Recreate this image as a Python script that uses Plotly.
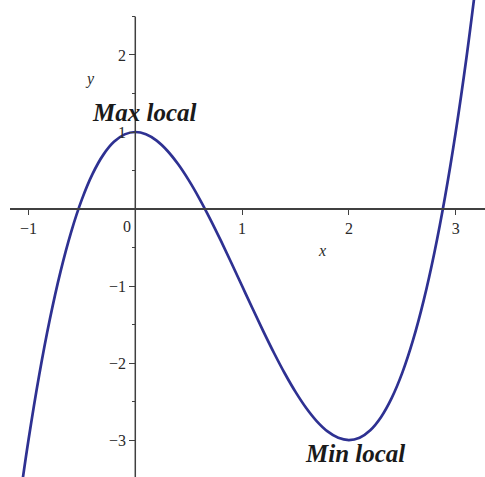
import plotly.graph_objects as go

# Sampled points of the cubic curve (x, y)
x_vals = [-1.08, -1.0, -0.9, -0.8, -0.7, -0.6, -0.5, -0.4, -0.3, -0.2, -0.1, 0.0,
          0.1, 0.2, 0.3, 0.4, 0.5, 0.6, 0.7, 0.8, 0.9, 1.0, 1.1, 1.2, 1.3, 1.4,
          1.5, 1.6, 1.7, 1.8, 1.9, 2.0, 2.1, 2.2, 2.3, 2.4, 2.5, 2.6, 2.7, 2.8,
          2.9, 3.0, 3.1, 3.2]
y_vals = [-3.759, -3.0, -2.159, -1.432, -0.813, -0.296, 0.125, 0.456, 0.703, 0.872,
          0.969, 1.0, 0.971, 0.888, 0.757, 0.584, 0.375, 0.136, -0.127, -0.408,
          -0.701, -1.0, -1.299, -1.592, -1.873, -2.136, -2.375, -2.584, -2.757,
          -2.888, -2.971, -3.0, -2.969, -2.872, -2.703, -2.456, -2.125, -1.704,
          -1.187, -0.568, 0.159, 1.0, 1.961, 3.048]

x_ticks = [-1, 1, 2, 3]
y_ticks = [-3, -2, -1, 1, 2]
y_minor = [-2.5, -1.5, -0.5, 0.5, 1.5, 2.5]

# Extremum labels
extrema = [("Max local", 0.09, 1.25), ("Min local", 2.06, -3.17)]

x_range = [-1.173, 3.274]
y_range = [-3.48, 2.714]
y_axis_top = 2.5

serif = "Liberation Serif, Times New Roman, serif"
axis_color = "#404040"
curve_color = "#2e3192"
text_color = "#2a2a2a"

fig = go.Figure()
fig.add_trace(go.Scatter(
    x=x_vals, y=y_vals, mode="lines",
    line=dict(color=curve_color, width=2.7, shape="spline"),
    hoverinfo="skip", showlegend=False,
))

x_pos = (0 - y_range[0]) / (y_range[1] - y_range[0])
y_pos = (0 - x_range[0]) / (x_range[1] - x_range[0])


def tick_text(vals):
    return [("\u2212" + str(-v)) if v < 0 else str(v) for v in vals]


fig.update_layout(
    width=485, height=477,
    margin=dict(l=10, r=0, t=0, b=0),
    paper_bgcolor="white", plot_bgcolor="white",
    showlegend=False,
    xaxis=dict(
        range=x_range, anchor="free", position=x_pos,
        showgrid=False, zeroline=False,
        showline=True, linecolor=axis_color, linewidth=1.5,
        ticks="outside", ticklen=5, tickwidth=1.3, tickcolor=axis_color,
        tickvals=x_ticks, ticktext=tick_text(x_ticks),
        tickfont=dict(family=serif, size=16, color=text_color),
    ),
    yaxis=dict(
        range=y_range, anchor="free", position=y_pos,
        showgrid=False, zeroline=False, showline=False,
        ticks="outside", ticklen=6, tickwidth=1.3, tickcolor=axis_color,
        tickvals=y_ticks, ticktext=tick_text(y_ticks),
        tickfont=dict(family=serif, size=16, color=text_color),
        minor=dict(ticks="outside", ticklen=3, tickwidth=1.3, tickcolor=axis_color,
                   tickvals=y_minor, showgrid=False),
    ),
)

# Vertical axis line (stops at the top minor tick)
fig.add_shape(type="line", xref="x", yref="y", x0=0, x1=0,
              y0=y_range[0] - 0.2, y1=y_axis_top,
              line=dict(color=axis_color, width=1.5), layer="above")

# Origin label
fig.add_annotation(x=0, y=0, xref="x", yref="y", text="0", showarrow=False,
                   xanchor="right", yanchor="top", xshift=-2, yshift=-7,
                   font=dict(family=serif, size=16, color=text_color))

# Axis titles
fig.add_annotation(x=1.75, y=-0.545, xref="x", yref="y", text="<i>x</i>", showarrow=False,
                   font=dict(family=serif, size=16, color=text_color))
fig.add_annotation(x=-0.424, y=1.69, xref="x", yref="y", text="<i>y</i>", showarrow=False,
                   font=dict(family=serif, size=16, color=text_color))

for label, lx, ly in extrema:
    fig.add_annotation(x=lx, y=ly, xref="x", yref="y", text="<b><i>" + label + "</i></b>",
                       showarrow=False,
                       font=dict(family=serif, size=25, color="#1a1a1a"))

fig.write_html("out.html")
